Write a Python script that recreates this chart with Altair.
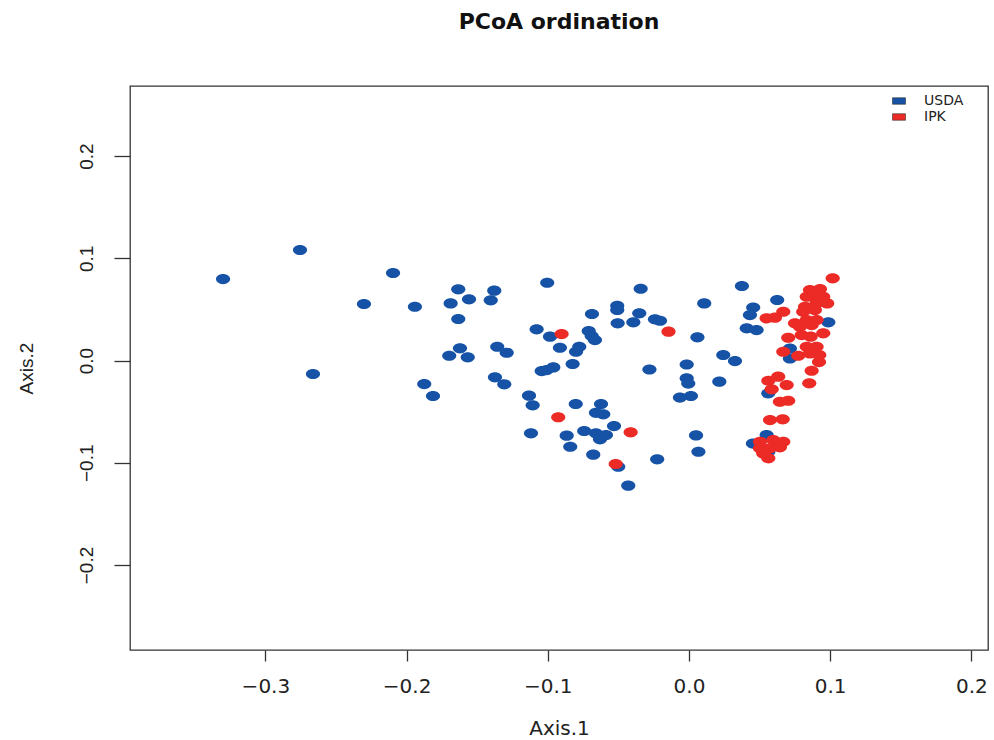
import altair as alt
import pandas as pd

# PCoA coordinates per sample (Axis.1, Axis.2)
usda_x = [-0.3300, -0.2755, -0.2663, -0.2302, -0.2096, -0.1941, -0.1634, -0.1688,
          -0.1558, -0.1379, -0.1404, -0.1634, -0.1004, -0.0342, -0.0508, -0.0508,
          -0.0687, -0.0352, -0.0505, -0.0394, -0.0241, -0.0205, 0.0108, -0.1079,
          -0.0984, -0.0710, -0.0689, -0.0666, 0.0060, -0.1622, -0.1698, -0.1567,
          -0.1358, -0.1291, -0.0914, -0.0777, -0.0800, -0.0824, -0.1043, -0.1008,
          -0.0961, -0.0280, -0.0016, -0.0016, -0.0005, -0.1875, -0.1813, -0.1374,
          -0.1308, -0.1133, -0.1107, -0.0802, -0.0623, -0.0659, -0.0607, -0.0064,
          0.0014, -0.1119, -0.0866, -0.0742, -0.0659, -0.0588, -0.0630, -0.0531,
          0.0050, -0.0841, -0.0678, -0.0225, 0.0067, -0.0501, -0.0430, 0.0375,
          0.0455, 0.0432, 0.0625, 0.0409, 0.0479, 0.0243, 0.0326, 0.0215,
          0.0987, 0.0715, 0.0715, 0.0562, 0.0550, 0.0453, 0.0562]
usda_y = [0.0797, 0.1081, -0.0132, 0.0553, 0.0856, 0.0526, 0.0696, 0.0559,
          0.0599, 0.0683, 0.0589, 0.0406, 0.0761, 0.0702, 0.0536, 0.0494,
          0.0455, 0.0462, 0.0364, 0.0374, 0.0403, 0.0389, 0.0559, 0.0305,
          0.0233, 0.0289, 0.0240, 0.0200, 0.0227, 0.0119, 0.0047, 0.0031,
          0.0135, 0.0076, 0.0125, 0.0135, 0.0086, -0.0034, -0.0103, -0.0093,
          -0.0067, -0.0088, -0.0039, -0.0174, -0.0225, -0.0230, -0.0347, -0.0164,
          -0.0233, -0.0344, -0.0438, -0.0425, -0.0425, -0.0511, -0.0526, -0.0362,
          -0.0347, -0.0712, -0.0735, -0.0689, -0.0712, -0.0729, -0.0771, -0.0641,
          -0.0732, -0.0843, -0.0921, -0.0966, -0.0892, -0.1039, -0.1224, 0.0729,
          0.0518, 0.0445, 0.0592, 0.0315, 0.0298, 0.0054, -0.0005, -0.0207,
          0.0374, 0.0117, 0.0020, -0.0321, -0.0729, -0.0812, -0.0892]

ipk_x = [-0.0902, -0.0145, -0.0926, -0.0413, -0.0519, 0.1018, 0.0857, 0.0928,
         0.0834, 0.0892, 0.0951, 0.0822, 0.0904, 0.0979, 0.0809, 0.0892,
         0.0550, 0.0609, 0.0668, 0.0751, 0.0834, 0.0904, 0.0786, 0.0869,
         0.0703, 0.0798, 0.0862, 0.0951, 0.0668, 0.0834, 0.0904, 0.0774,
         0.0857, 0.0923, 0.0921, 0.0869, 0.0852, 0.0562, 0.0632, 0.0692,
         0.0586, 0.0644, 0.0703, 0.0574, 0.0664, 0.0503, 0.0597, 0.0668,
         0.0503, 0.0574, 0.0644, 0.0526, 0.0562]
ipk_y = [0.0259, 0.0282, -0.0555, -0.0702, -0.1012, 0.0804, 0.0689, 0.0699,
         0.0624, 0.0624, 0.0624, 0.0526, 0.0559, 0.0559, 0.0477, 0.0494,
         0.0413, 0.0419, 0.0477, 0.0364, 0.0396, 0.0396, 0.0331, 0.0347,
         0.0223, 0.0249, 0.0233, 0.0266, 0.0086, 0.0135, 0.0135, 0.0047,
         0.0070, 0.0054, -0.0015, -0.0100, -0.0223, -0.0198, -0.0158, -0.0240,
         -0.0282, -0.0403, -0.0393, -0.0582, -0.0575, -0.0794, -0.0778, -0.0794,
         -0.0859, -0.0859, -0.0849, -0.0908, -0.0956]

groups = ["USDA", "IPK"]
colors = ["#1652a6", "#ec2a26"]

x_ticks = [-0.3, -0.2, -0.1, 0.0, 0.1, 0.2]
y_ticks = [-0.2, -0.1, 0.0, 0.1, 0.2]

df = pd.concat(
    [
        pd.DataFrame({"ax1": usda_x, "ax2": usda_y, "group": "USDA", "z": 0}),
        pd.DataFrame({"ax1": ipk_x, "ax2": ipk_y, "group": "IPK", "z": 1}),
    ],
    ignore_index=True,
)

ellipse = "M-1,0A1,0.72,0,1,0,1,0A1,0.72,0,1,0,-1,0Z"
legend_box = "M-1,-0.5H1V0.5H-1Z"

W, H = 858, 564

chart = (
    alt.Chart(df)
    .mark_point(filled=True, opacity=1, shape=ellipse, size=200, strokeWidth=0)
    .encode(
        x=alt.X(
            "ax1:Q",
            scale=alt.Scale(domain=[-0.3959, 0.2118], nice=False, zero=False),
            axis=alt.Axis(
                title="Axis.1",
                values=x_ticks,
                format=".1f",
                grid=False,
                domain=False,
                tickSize=11,
                tickWidth=1.3,
                tickColor="#333333",
                labelPadding=15,
                labelFont="DejaVu Sans",
                labelFontSize=20,
                labelColor="#222222",
                titleFont="DejaVu Sans",
                titleFontSize=20,
                titleFontWeight="normal",
                titleColor="#222222",
                titleX=W / 2,
                titleY=84,
                titleAlign="center",
                titleBaseline="alphabetic",
            ),
        ),
        y=alt.Y(
            "ax2:Q",
            scale=alt.Scale(domain=[-0.2831, 0.2685], nice=False, zero=False),
            axis=alt.Axis(
                title="Axis.2",
                values=y_ticks,
                format=".1f",
                grid=False,
                domain=False,
                tickSize=16,
                tickWidth=1.3,
                tickColor="#333333",
                labelPadding=22,
                labelAngle=270,
                labelAlign="center",
                labelBaseline="alphabetic",
                labelFont="Liberation Sans",
                labelFontSize=19,
                labelColor="#222222",
                titleFont="Liberation Sans",
                titleFontSize=19,
                titleFontWeight="normal",
                titleColor="#222222",
                titleAngle=270,
                titleX=-98,
                titleY=H / 2,
                titleAlign="center",
                titleBaseline="alphabetic",
            ),
        ),
        color=alt.Color(
            "group:N",
            scale=alt.Scale(domain=groups, range=colors),
            legend=alt.Legend(
                title=None,
                orient="none",
                legendX=762,
                legendY=8,
                symbolType=legend_box,
                symbolSize=169,
                symbolOpacity=1,
                symbolStrokeColor="#333333",
                symbolStrokeWidth=0.6,
                labelFont="DejaVu Sans",
                labelFontSize=14,
                labelColor="#222222",
                labelOffset=18,
                rowPadding=2,
                padding=0,
            ),
        ),
        order=alt.Order("z:Q"),
    )
    .properties(
        width=W,
        height=H,
        background="white",
        title=alt.TitleParams(
            "PCoA ordination",
            font="DejaVu Sans",
            fontSize=22,
            fontWeight="bold",
            color="#111111",
            anchor="middle",
            offset=52,
        ),
        autosize=alt.AutoSizeParams(type="none"),
        padding={"left": 130, "top": 86, "right": 6, "bottom": 90},
    )
    .configure_view(stroke="#333333", strokeWidth=1.3)
)

chart.save("out.html", embed_options={"renderer": "svg", "actions": False})
